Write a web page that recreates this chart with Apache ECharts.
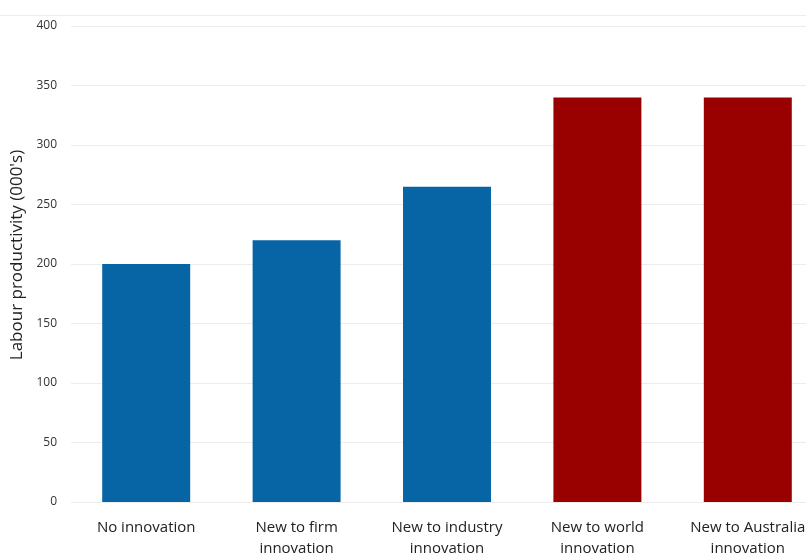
<!DOCTYPE html>
<html>
<head>
<meta charset="utf-8">
<script src="https://cdn.jsdelivr.net/npm/echarts@6/dist/echarts.min.js"></script>
<style>
  html, body { margin: 0; padding: 0; background: #ffffff; }
  #chart { width: 806px; height: 554px; }
</style>
</head>
<body>
<div id="chart"></div>
<script>
// Labour productivity by type of innovation
const categories = [
  'No innovation',
  'New to firm\ninnovation',
  'New to industry\ninnovation',
  'New to world\ninnovation',
  'New to Australia\ninnovation'
];
const productivity = [200, 220, 265, 340, 340];
const barColors = ['#0765a6', '#0765a6', '#0765a6', '#990000', '#990000'];

const chart = echarts.init(document.getElementById('chart'), null, { renderer: 'canvas' });

chart.setOption({
  animation: false,
  backgroundColor: '#ffffff',
  graphic: [{
    type: 'line',
    shape: { x1: 0, y1: 15.5, x2: 806, y2: 15.5 },
    style: { stroke: '#ececec', lineWidth: 1 }
  }],
  // plot area runs past the right edge of the canvas
  grid: { left: 71, top: 26, width: 752, height: 476, containLabel: false, outerBoundsMode: 'none' },
  xAxis: {
    type: 'category',
    data: categories,
    axisLine: { show: false },
    axisTick: { show: false },
    axisLabel: {
      interval: 0,
      margin: 15,
      color: '#222222',
      fontSize: 15,
      lineHeight: 21,
      fontFamily: 'Open Sans'
    }
  },
  yAxis: {
    type: 'value',
    min: 0,
    max: 400,
    interval: 50,
    name: "Labour productivity (000's)",
    nameLocation: 'middle',
    nameGap: 37,
    nameRotate: 90,
    nameTextStyle: { color: '#222222', fontSize: 17, fontFamily: 'Open Sans', padding: [0, 0, 0, 18] },
    axisLine: { show: false },
    axisTick: { show: false },
    axisLabel: { margin: 14, color: '#333333', fontSize: 12, fontFamily: 'Open Sans' },
    splitLine: { lineStyle: { color: '#ececec', width: 1 } }
  },
  series: [{
    type: 'bar',
    data: productivity.map((v, i) => ({ value: v, itemStyle: { color: barColors[i] } })),
    barCategoryGap: '41.5%'
  }]
});
</script>
</body>
</html>
